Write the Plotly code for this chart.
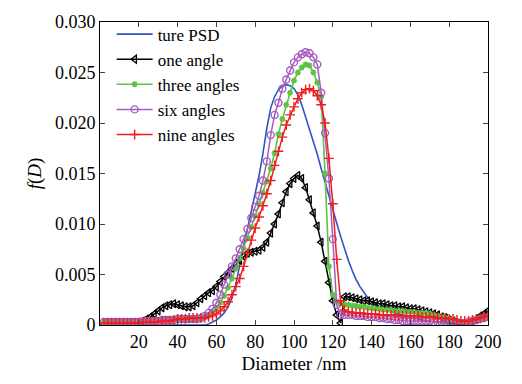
import plotly.graph_objects as go

diameter = list(range(2, 201, 2))

true_psd = [0]*27 + [
    0.0001, 0.0003, 0.0005, 0.0008, 0.0012, 0.0018, 0.0027, 0.0040, 0.0060, 0.0078,
    0.0095, 0.0112, 0.0130, 0.0148, 0.0170, 0.0195, 0.0215, 0.0226, 0.0233, 0.0237,
    0.0238, 0.0237, 0.0234, 0.0228, 0.0218, 0.0206, 0.0194, 0.0183, 0.0169, 0.0155,
    0.0141, 0.0127, 0.0114, 0.0101, 0.0088, 0.0075, 0.0064, 0.0054, 0.0045, 0.0038,
    0.0032, 0.0027, 0.0023, 0.0020, 0.0018, 0.0016, 0.0014, 0.0013, 0.0012, 0.0011,
    0.0010, 0.0009, 0.0008, 0.0007, 0.0006, 0.0005, 0.0004, 0.0004, 0.0003, 0.0003,
    0.0002, 0.0002, 0.0001, 0.0001, 0.0001, 0.0001, 0.0001, 0.0002, 0.0003, 0.0004,
    0.0005, 0.0006, 0.0007]

one_angle = [
    0.0001, 0.0001, 0.0001, 0.0001, 0.0001, 0.0001, 0.0002, 0.0002, 0.0002, 0.0003,
    0.0004, 0.0006, 0.0008, 0.0011, 0.0014, 0.0017, 0.0019, 0.0020, 0.0021, 0.0020,
    0.0019, 0.0018, 0.0018, 0.0019, 0.0022, 0.0026, 0.0029, 0.0032, 0.0034, 0.0038,
    0.0043, 0.0048, 0.0052, 0.0056, 0.0060, 0.0064, 0.0068, 0.0071, 0.0072, 0.0073,
    0.0074, 0.0077, 0.0082, 0.0091, 0.0100, 0.0110, 0.0121, 0.0132, 0.0140, 0.0145,
    0.0148, 0.0145, 0.0136, 0.0124, 0.0111, 0.0098, 0.0082, 0.0063, 0.0042, 0.0024,
    0.0010, 0.0002, 0.0028, 0.0028, 0.0027, 0.0026, 0.0025, 0.0024, 0.0024, 0.0023,
    0.0022, 0.0021, 0.0021, 0.0020, 0.0019, 0.0019, 0.0018, 0.0018, 0.0017, 0.0016,
    0.0016, 0.0015, 0.0014, 0.0013, 0.0012, 0.0011, 0.0010, 0.0008, 0.0007, 0.0005,
    0.0004, 0.0002, 0.0001, 0.0001, 0.0002, 0.0004, 0.0006, 0.0009, 0.0011, 0.0014]

three_angles = [
    0.0003, 0.0003, 0.0003, 0.0003, 0.0003, 0.0003, 0.0003, 0.0003, 0.0003, 0.0003,
    0.0004, 0.0004, 0.0004, 0.0004, 0.0005, 0.0005, 0.0005, 0.0005, 0.0006, 0.0006,
    0.0006, 0.0006, 0.0006, 0.0006, 0.0006, 0.0007, 0.0008, 0.0010, 0.0013, 0.0017,
    0.0022, 0.0029, 0.0037, 0.0046, 0.0056, 0.0066, 0.0076, 0.0086, 0.0097, 0.0108,
    0.0120, 0.0131, 0.0142, 0.0155, 0.0170, 0.0189, 0.0204, 0.0218, 0.0230, 0.0242,
    0.0250, 0.0255, 0.0258, 0.0257, 0.0250, 0.0240, 0.0226, 0.0150, 0.0058, 0.0030,
    0.0023, 0.0021, 0.0020, 0.0020, 0.0019, 0.0019, 0.0018, 0.0018, 0.0017, 0.0017,
    0.0016, 0.0016, 0.0015, 0.0015, 0.0015, 0.0014, 0.0014, 0.0014, 0.0013, 0.0013,
    0.0013, 0.0012, 0.0012, 0.0012, 0.0011, 0.0010, 0.0009, 0.0008, 0.0007, 0.0006,
    0.0005, 0.0004, 0.0003, 0.0003, 0.0003, 0.0004, 0.0005, 0.0006, 0.0007, 0.0008]

six_angles = [
    0.0003, 0.0003, 0.0003, 0.0003, 0.0003, 0.0003, 0.0003, 0.0003, 0.0003, 0.0003,
    0.0003, 0.0004, 0.0004, 0.0004, 0.0004, 0.0005, 0.0005, 0.0005, 0.0005, 0.0006,
    0.0006, 0.0006, 0.0006, 0.0006, 0.0006, 0.0007, 0.0009, 0.0012, 0.0016, 0.0022,
    0.0030, 0.0040, 0.0050, 0.0058, 0.0066, 0.0075, 0.0085, 0.0095, 0.0106, 0.0117,
    0.0128, 0.0143, 0.0162, 0.0188, 0.0208, 0.0220, 0.0234, 0.0243, 0.0252, 0.0260,
    0.0265, 0.0268, 0.0270, 0.0269, 0.0265, 0.0258, 0.0230, 0.0190, 0.0145, 0.0085,
    0.0020, 0.0010, 0.0010, 0.0010, 0.0010, 0.0009, 0.0009, 0.0009, 0.0008, 0.0008,
    0.0008, 0.0007, 0.0007, 0.0006, 0.0006, 0.0005, 0.0005, 0.0004, 0.0004, 0.0004,
    0.0004, 0.0004, 0.0004, 0.0004, 0.0004, 0.0003, 0.0003, 0.0003, 0.0003, 0.0003,
    0.0003, 0.0002, 0.0002, 0.0002, 0.0003, 0.0004, 0.0005, 0.0006, 0.0007, 0.0008]

nine_angles = [
    0.0002, 0.0002, 0.0002, 0.0002, 0.0002, 0.0002, 0.0002, 0.0002, 0.0002, 0.0002,
    0.0003, 0.0003, 0.0003, 0.0003, 0.0003, 0.0004, 0.0004, 0.0004, 0.0005, 0.0006,
    0.0006, 0.0006, 0.0007, 0.0007, 0.0007, 0.0007, 0.0007, 0.0008, 0.0009, 0.0011,
    0.0014, 0.0018, 0.0023, 0.0030, 0.0038, 0.0046, 0.0058, 0.0071, 0.0084, 0.0096,
    0.0107, 0.0118, 0.0130, 0.0143, 0.0158, 0.0172, 0.0186, 0.0198, 0.0208, 0.0216,
    0.0224, 0.0230, 0.0233, 0.0234, 0.0232, 0.0227, 0.0218, 0.0200, 0.0165, 0.0120,
    0.0065, 0.0024, 0.0015, 0.0013, 0.0012, 0.0012, 0.0012, 0.0011, 0.0011, 0.0011,
    0.0011, 0.0010, 0.0010, 0.0010, 0.0010, 0.0010, 0.0009, 0.0009, 0.0009, 0.0009,
    0.0009, 0.0009, 0.0008, 0.0008, 0.0008, 0.0008, 0.0007, 0.0007, 0.0007, 0.0006,
    0.0006, 0.0005, 0.0004, 0.0004, 0.0004, 0.0005, 0.0006, 0.0007, 0.0008, 0.0010]

x_ticks = [20, 40, 60, 80, 100, 120, 140, 160, 180, 200]
y_ticks = [0, 0.005, 0.010, 0.015, 0.020, 0.025, 0.030]
y_ticktext = ["0", "0.005", "0.010", "0.015", "0.020", "0.025", "0.030"]

FONT = "Liberation Serif"

fig = go.Figure()
fig.add_trace(go.Scatter(x=diameter, y=true_psd, name="ture PSD", mode="lines",
                         line=dict(color="#2e55c4", width=1.6), legendgroup="a"))
fig.add_trace(go.Scatter(x=diameter, y=one_angle, name="one angle", mode="lines+markers",
                         line=dict(color="black", width=1.5), legendgroup="b",
                         marker=dict(symbol="triangle-left-open", size=7, color="black",
                                     line=dict(width=1.3))))
fig.add_trace(go.Scatter(x=diameter, y=three_angles, name="three angles", mode="lines+markers",
                         line=dict(color="#5cc343", width=1.6), legendgroup="c",
                         marker=dict(symbol="asterisk-open", size=5, color="#5cc343",
                                     line=dict(width=1.6, color="#5cc343"))))
fig.add_trace(go.Scatter(x=diameter, y=six_angles, name="six angles", mode="lines+markers",
                         line=dict(color="#a55cc0", width=1.5), legendgroup="d",
                         marker=dict(symbol="circle-open", size=7, color="#a55cc0",
                                     line=dict(width=1.4))))
fig.add_trace(go.Scatter(x=diameter, y=nine_angles, name="nine angles", mode="lines+markers",
                         line=dict(color="#f01e1e", width=1.5), legendgroup="e",
                         marker=dict(symbol="cross-thin-open", size=7, color="#f01e1e",
                                     line=dict(width=1.4, color="#f01e1e"))))

fig.update_layout(
    width=522, height=384,
    margin=dict(l=100, r=34, t=13, b=59),
    paper_bgcolor="white", plot_bgcolor="white",
    font=dict(family=FONT, size=18, color="black"),
    showlegend=True,
    legend=dict(x=0.03, y=1.018, xanchor="left", yanchor="top",
                bgcolor="rgba(0,0,0,0)", font=dict(family=FONT, size=17),
                tracegroupgap=0, itemwidth=36),
    xaxis=dict(range=[0, 200], tickvals=x_ticks, ticks="inside", ticklen=5,
               showline=True, linecolor="black", linewidth=1, mirror="ticks",
               showgrid=False, zeroline=False,
               tickfont=dict(family=FONT, size=18),
               title=dict(text="Diameter /nm", font=dict(family=FONT, size=19), standoff=6)),
    yaxis=dict(range=[0, 0.030], tickvals=y_ticks, ticktext=y_ticktext, ticks="inside",
               ticklen=5, showline=True, linecolor="black", linewidth=1, mirror="ticks",
               showgrid=False, zeroline=False,
               tickfont=dict(family=FONT, size=18),
               title=dict(text="<i>f</i>(<i>D</i>)", font=dict(family=FONT, size=19), standoff=8)),
)

fig.write_html("out.html", config={"displayModeBar": False})
with open("out.html", "r", encoding="utf-8") as f:
    html = f.read()
html = html.replace("<head>", "<head><style>html,body{margin:0;padding:0;overflow:hidden;}</style>", 1)
with open("out.html", "w", encoding="utf-8") as f:
    f.write(html)
